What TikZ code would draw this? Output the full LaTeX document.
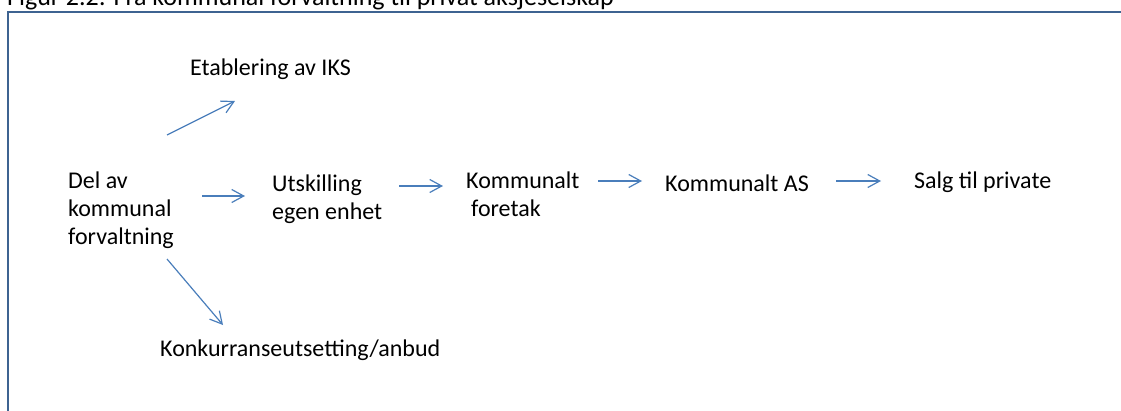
\documentclass[tikz,border=0pt]{standalone}
\usepackage{fontspec}
\setmainfont{Carlito}
\usetikzlibrary{arrows.meta}
\definecolor{arrowblue}{RGB}{74,126,187}
\definecolor{framecol}{RGB}{61,99,145}
\begin{document}
\begin{tikzpicture}[x=1pt,y=-1pt,
  lbl/.style={inner sep=0pt,font=\fontsize{24}{28}\selectfont,align=left,anchor=base west},
  conn/.style={draw=arrowblue,line width=1.2pt,-{Straight Barb[length=12pt,width=13pt,line width=1.2pt]}}]
\useasboundingbox (0,0) rectangle (1121,410);
\clip (0,0) rectangle (1121,410);
% title (cut off at the top)
\node[lbl,font=\fontsize{26}{30}\selectfont] (title) at (7,5) {Figur 2.2: Fra kommunal forvaltning til privat aksjeselskap};
% frame
\draw[framecol,line width=2pt] (8,430) |- (1140,11.5);
% texts (anchor: baseline of the last line)
\node[lbl] (iks) at (190,75) {Etablering av IKS};
\node[lbl] (del) at (68,244) {Del av\\kommunal\\forvaltning};
\node[lbl] (utsk) at (272,219) {Utskilling\\egen enhet};
\node[lbl] (kf) at (466,216) {Kommunalt\\\hspace*{5pt}foretak};
\node[lbl] (kas) at (665,191) {Kommunalt AS};
\node[lbl] (salg) at (914,188) {Salg til private};
\node[lbl] (konk) at (160,356) {Konkurranseutsetting/anbud};
% arrow end points
\coordinate (a0s) at (167,135); \coordinate (a0e) at (235,101);
\coordinate (a1s) at (202,196); \coordinate (a1e) at (245,196);
\coordinate (a2s) at (399,186); \coordinate (a2e) at (443,186);
\coordinate (a3s) at (598,181); \coordinate (a3e) at (642,181);
\coordinate (a4s) at (836,181); \coordinate (a4e) at (881,181);
\coordinate (a5s) at (167,259); \coordinate (a5e) at (223,325);
\draw[conn] (a0s) -- (a0e);
\draw[conn] (a1s) -- (a1e);
\draw[conn] (a2s) -- (a2e);
\draw[conn] (a3s) -- (a3e);
\draw[conn] (a4s) -- (a4e);
\draw[conn] (a5s) -- (a5e);
\end{tikzpicture}
\end{document}
